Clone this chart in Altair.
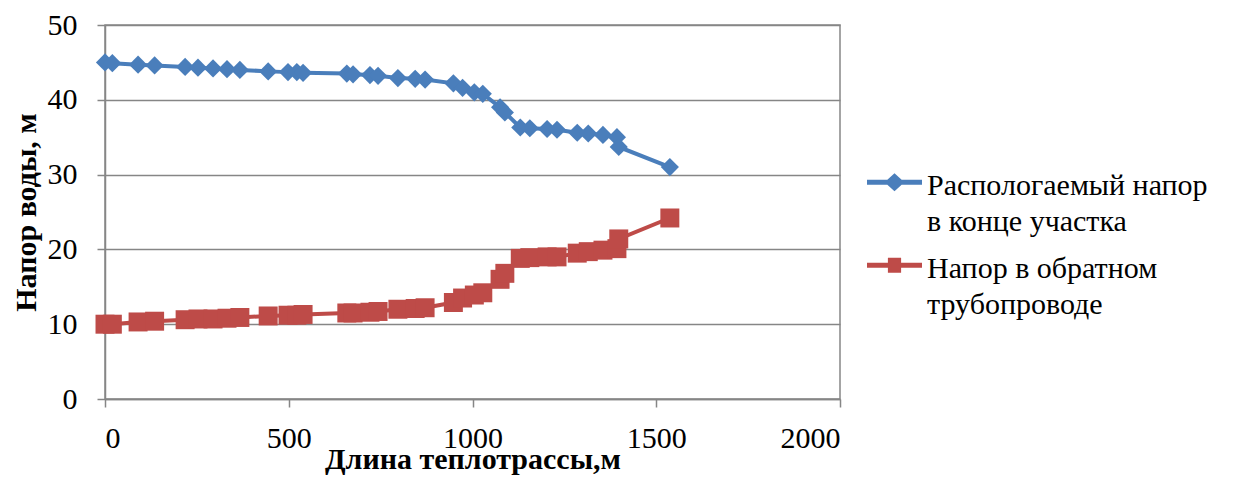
import altair as alt
import pandas as pd

# ---- data ----
length_m = [0, 20, 90, 135, 218, 253, 294, 332, 367, 444, 498, 522, 539, 658, 675, 721, 743,
            797, 844, 871, 948, 973, 1005, 1028, 1075, 1088, 1130, 1156, 1203, 1230, 1285,
            1315, 1355, 1393, 1398, 1537]
head_available = [45.0, 44.9, 44.7, 44.6, 44.4, 44.3, 44.2, 44.1, 44.0, 43.8, 43.7, 43.7, 43.6,
                  43.5, 43.4, 43.3, 43.2, 42.9, 42.8, 42.7, 42.2, 41.6, 41.0, 40.8, 39.0, 38.3,
                  36.3, 36.2, 36.1, 36.0, 35.6, 35.5, 35.3, 35.0, 33.7, 31.0]
head_return = [10.0, 10.0, 10.3, 10.4, 10.6, 10.7, 10.7, 10.8, 10.9, 11.1, 11.2, 11.2, 11.3,
               11.5, 11.5, 11.6, 11.7, 12.0, 12.1, 12.2, 12.9, 13.5, 13.9, 14.2, 16.0, 16.8,
               18.8, 18.9, 19.0, 19.0, 19.5, 19.7, 19.9, 20.1, 21.4, 24.2]
series_names = ["Распологаемый напор|в конце участка", "Напор в обратном|трубопроводе"]
x_ticks = [0, 500, 1000, 1500, 2000]
y_ticks = [0, 10, 20, 30, 40, 50]

BLUE = "#4A7EBB"
RED = "#BE4B48"
GRAY = "#868686"
FONT = "Liberation Serif"

df = pd.DataFrame({"x": length_m, "a": head_available, "r": head_return})

axis_common = dict(labelFont=FONT, labelFontSize=30, labelColor="black",
                   titleFont=FONT, titleFontSize=30, titleFontWeight="bold", titleColor="black",
                   format="d")

xenc = alt.X("x:Q", scale=alt.Scale(domain=[0, 2000], nice=False, zero=False),
             axis=alt.Axis(values=x_ticks, title="Длина теплотрассы,м", grid=False,
                           labelPadding=16, titlePadding=-9, **axis_common))

def yenc(field):
    return alt.Y(f"{field}:Q", scale=alt.Scale(domain=[0, 50], nice=False),
                 axis=alt.Axis(values=y_ticks, title="Напор воды, м", grid=True,
                               labelPadding=20, titlePadding=6, **axis_common))

base = alt.Chart(df)

blue_line = base.mark_line(color=BLUE, strokeWidth=4).encode(x=xenc, y=yenc("a"))
blue_pts = base.mark_point(shape="diamond", filled=True, size=330, color=BLUE, opacity=1).encode(x=xenc, y=yenc("a"))
red_line = base.mark_line(color=RED, strokeWidth=4).encode(x=xenc, y=yenc("r"))
red_pts = base.mark_point(shape="square", filled=True, size=360, color=RED, opacity=1).encode(x=xenc, y=yenc("r"))

oy = -0.12
def rect_path():
    return f"M-1,{oy-0.09:.3f} L1,{oy-0.09:.3f} L1,{oy+0.09:.3f} L-1,{oy+0.09:.3f} Z "
path_blue = rect_path() + f"M0,{oy-0.33:.3f} L0.36,{oy:.3f} L0,{oy+0.33:.3f} L-0.36,{oy:.3f} Z"
path_red = rect_path() + f"M-0.24,{oy-0.27:.3f} L0.24,{oy-0.27:.3f} L0.24,{oy+0.27:.3f} L-0.24,{oy+0.27:.3f} Z"

legend_layer = base.transform_filter("datum.x < 0").mark_point(
    filled=True, opacity=1, size=3025, strokeWidth=0
).encode(
    color=alt.Color("series:N", scale=alt.Scale(domain=series_names, range=[BLUE, RED]),
                    legend=alt.Legend(orient="none", legendX=762, legendY=133, title=None,
                                      labelExpr="split(datum.label, '|')",
                                      symbolSize=3025, symbolStrokeWidth=0, symbolOpacity=1,
                                      labelOffset=5, rowPadding=4, padding=0,
                                      labelFont=FONT, labelFontSize=30, labelColor="black",
                                      labelLimit=400)),
    shape=alt.Shape("series:N", scale=alt.Scale(domain=series_names, range=[path_blue, path_red]))
)

chart = alt.layer(blue_line, blue_pts, red_line, red_pts, legend_layer).properties(
    width=735, height=374,
    autosize=alt.AutoSizeParams(type="none"),
    padding={"left": 105, "top": 25, "right": 401, "bottom": 80},
    background="white",
).configure(
    style={"guide-label": {"font": FONT, "fontSize": 30, "fill": "black", "lineHeight": 36},
           "guide-title": {"font": FONT, "fontSize": 30, "fontWeight": "bold", "fill": "black"}}
).configure_axis(
    domainColor=GRAY, domainWidth=1.5, tickColor=GRAY, tickSize=8, tickWidth=1.5,
    gridColor=GRAY, gridWidth=1.5, gridOpacity=1,
).configure_view(
    stroke=GRAY, strokeWidth=1.5
)

chart.save("out.html", embed_options={"renderer": "svg", "actions": False})
